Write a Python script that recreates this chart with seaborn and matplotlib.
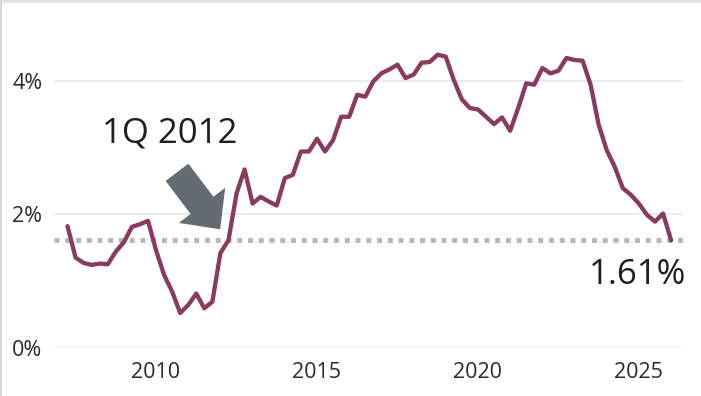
import numpy as np
import pandas as pd
import matplotlib
matplotlib.use("Agg")
import matplotlib.pyplot as plt
from matplotlib.patches import Rectangle
import seaborn as sns

# Quarterly series, 1Q 2007 - 4Q 2025 (percent)
quarters = pd.period_range("2007Q1", "2025Q4", freq="Q")
rate = [1.82, 1.35, 1.27, 1.24, 1.26, 1.25, 1.44, 1.58, 1.81, 1.85,
        1.90, 1.46, 1.09, 0.84, 0.52, 0.64, 0.81, 0.59, 0.69, 1.42,
        1.61, 2.31, 2.67, 2.16, 2.26, 2.19, 2.13, 2.54, 2.59, 2.94,
        2.94, 3.13, 2.94, 3.11, 3.46, 3.46, 3.79, 3.76, 3.99, 4.11,
        4.17, 4.24, 4.04, 4.09, 4.27, 4.28, 4.39, 4.36, 4.01, 3.72,
        3.59, 3.57, 3.46, 3.35, 3.45, 3.25, 3.59, 3.96, 3.94, 4.19,
        4.11, 4.15, 4.34, 4.31, 4.30, 3.94, 3.34, 2.96, 2.71, 2.39,
        2.29, 2.16, 1.99, 1.89, 2.01, 1.61]
highlight_quarter = "2012Q1"
year_ticks = [2010, 2015, 2020, 2025]
pct_ticks = [0, 2, 4]

# quarter-end position on a decimal-year axis
df = pd.DataFrame({
    "t": quarters.year + quarters.quarter / 4.0,
    "rate": rate,
})

sns.set_theme(style="white")
plt.rcParams["font.family"] = ["Open Sans", "DejaVu Sans"]

LINE = "#8a3a60"
ARROW = "#636b73"
DOTS = "#b6b8bc"
GRID = "#e4e4ec"
TEXT = "#1e1e1e"

fig = plt.figure(figsize=(7.01, 3.96), dpi=100)
ax = fig.add_axes([54 / 701, 48.3 / 396, 629 / 701, 333.75 / 396])

# thin frame on the top and left edges
fig.add_artist(Rectangle((0, 1 - 3 / 396), 1, 3 / 396, transform=fig.transFigure,
                         color="#e3e3e3", lw=0, zorder=10))
fig.add_artist(Rectangle((0, 0), 2 / 701, 1, transform=fig.transFigure,
                         color="#d9d9d9", lw=0, zorder=10))

latest = df["rate"].iloc[-1]
ax.axhline(latest, color=DOTS, lw=3.6, linestyle=(0, (1.0, 1.15)),
           dash_capstyle="butt", zorder=1)

sns.lineplot(data=df, x="t", y="rate", ax=ax, color=LINE, linewidth=3.1,
             zorder=3)

ax.set_xlim(2006.83, 2026.37)
ax.set_ylim(0, 5.0)
ax.set_xticks(year_ticks)
ax.set_xticklabels([str(y) for y in year_ticks])
ax.set_yticks(pct_ticks)
ax.set_yticklabels([f"{v}%" for v in pct_ticks])
ax.set_xlabel("")
ax.set_ylabel("")
ax.yaxis.grid(True, color=GRID, lw=1.1, zorder=0)
ax.xaxis.grid(False)
for s in ax.spines.values():
    s.set_visible(False)
ax.tick_params(axis="both", length=0, labelsize=15.5, labelcolor="#2a2a2a")
ax.tick_params(axis="x", pad=10)
ax.tick_params(axis="y", pad=8.5)

# arrow and label pointing at the highlighted quarter
hq = pd.Period(highlight_quarter, freq="Q")
hrow = df.iloc[list(quarters).index(hq)]
hxy = (hrow["t"], hrow["rate"])
ax.annotate("", xy=hxy, xytext=(-51.5, 67.9), textcoords="offset pixels",
            arrowprops=dict(arrowstyle="simple,head_length=21.6,head_width=41.8,tail_width=20.6",
                            mutation_scale=1, shrinkA=0, shrinkB=9.9,
                            fc=ARROW, ec="none"), zorder=4)
ax.annotate(f"{hq.quarter}Q {hq.year}", xy=hxy, xytext=(-58.5, 106.9),
            textcoords="offset pixels", ha="center", va="center",
            fontsize=25, color=TEXT)

# latest value label
ax.annotate(f"{latest:.2f}%", xy=(df["t"].iloc[-1], latest), xytext=(15, -35),
            textcoords="offset pixels", ha="right", va="center",
            fontsize=25, color=TEXT, annotation_clip=False)

fig.savefig("out.png", dpi=100)
